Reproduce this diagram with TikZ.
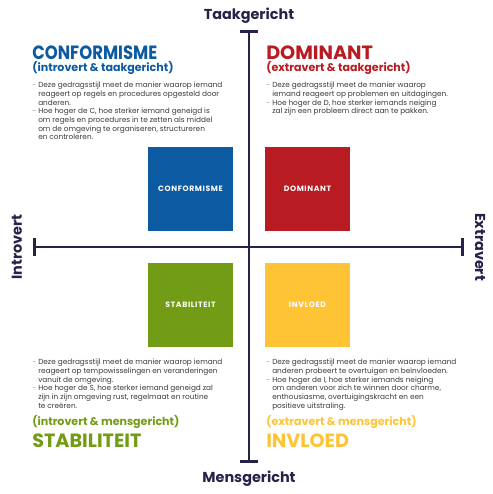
\documentclass[tikz,border=0pt]{standalone}
\usepackage{fontspec}
\setmainfont{Poppins}
\newfontfamily\boxfont{Poppins}[LetterSpace=8]
\usepackage{xcolor}
\usetikzlibrary{positioning, calc, arrows.meta}

\definecolor{navy}{HTML}{25234A}
\definecolor{conblue}{HTML}{0C5AA2}
\definecolor{domred}{HTML}{B81B21}
\definecolor{stagreen}{HTML}{729C15}
\definecolor{invyellow}{HTML}{FFC436}
\definecolor{bodygray}{HTML}{3A3A3A}
\definecolor{dashgray}{HTML}{9A9A9A}

\newcommand{\bdash}{\textcolor{dashgray}{-}\ }
\newcommand{\bind}{\hphantom{-\ }}

\tikzset{
  axis/.style={draw=navy, line width=2.2pt, {Bar[width=14pt]}-{Bar[width=14pt]}},
  axlabel/.style={text=navy, font=\fontsize{10.8}{12}\selectfont\bfseries, inner sep=0pt},
  sq/.style={minimum width=63.75pt, minimum height=63pt, inner sep=0pt,
    text=white, font=\boxfont\fontsize{5.8}{7}\selectfont\bfseries},
  title/.style={font=\fontsize{14.4}{16}\selectfont\bfseries, inner sep=0pt, anchor=base west},
  subtitle/.style={font=\fontsize{8.3}{10}\selectfont\bfseries, inner sep=0pt, anchor=base west},
  body/.style={text=bodygray, font=\fontsize{5.5}{6.5}\selectfont, align=left,
    inner sep=0pt, anchor=north west}
}

\begin{document}
\begin{tikzpicture}[x=0.75pt, y=-0.75pt]
  \useasboundingbox (0,0) rectangle (493,494);
  % Axes
  \coordinate (top) at (249,30);
  \coordinate (bot) at (249,463);
  \coordinate (lft) at (33,247);
  \coordinate (rgt) at (464,247);
  \draw[axis] (top) -- (bot);
  \draw[axis] (lft) -- (rgt);
  \node[axlabel] (taak) at (249,16) {Taakgericht};
  \node[axlabel] (mens) at (249,479) {Mensgericht};
  \node[axlabel, rotate=90] (intro) at (17,247) {Introvert};
  \node[axlabel, rotate=-90] (extra) at (480,247) {Extravert};
  % Squares
  \node[sq, fill=conblue] (csq) at (190.5,189) {CONFORMISME};
  \node[sq, fill=domred] (dsq) at (307.5,189) {DOMINANT};
  \node[sq, fill=stagreen] (ssq) at (190.5,305) {STABILITEIT};
  \node[sq, fill=invyellow] (isq) at (307.5,305) {INVLOED};
  % Conformisme
  \node[title, text=conblue] (ctitle) at (32,59) {\scalebox{0.86}[1]{CONFORMISME}};
  \node[subtitle, text=conblue] (csub) at (32,71.5) {(introvert \& taakgericht)};
  \node[body] (cbody) at (32,82) {\bdash Deze gedragsstijl meet de manier waarop iemand\\
    \bind reageert op regels en procedures opgesteld door\\
    \bind anderen.\\
    \bdash Hoe hoger de C, hoe sterker iemand geneigd is\\
    \bind om regels en procedures in te zetten als middel\\
    \bind om de omgeving te organiseren, structureren\\
    \bind en controleren.};
  % Dominant
  \node[title, text=domred] (dtitle) at (266,59) {DOMINANT};
  \node[subtitle, text=domred] (dsub) at (266,71.5) {(extravert \& taakgericht)};
  \node[body] (dbody) at (266,82) {\bdash Deze gedragsstijl meet de manier waarop\\
    \bind iemand reageert op problemen en uitdagingen.\\
    \bdash Hoe hoger de D, hoe sterker iemands neiging\\
    \bind zal zijn een probleem direct aan te pakken.};
  % Stabiliteit
  \node[body] (sbody) at (32,359) {\bdash Deze gedragsstijl meet de manier waarop iemand\\
    \bind reageert op tempowisselingen en veranderingen\\
    \bind vanuit de omgeving.\\
    \bdash Hoe hoger de S, hoe sterker iemand geneigd zal\\
    \bind zijn in zijn omgeving rust, regelmaat en routine\\
    \bind te creëren.};
  \node[subtitle, text=stagreen] (ssub) at (32,425.5) {(introvert \& mensgericht)};
  \node[title, text=stagreen] (stitle) at (32,447) {STABILITEIT};
  % Invloed
  \node[body] (ibody) at (266,359) {\bdash Deze gedragsstijl meet de manier waarop iemand\\
    \bind anderen probeert te overtuigen en beïnvloeden.\\
    \bdash Hoe hoger de I, hoe sterker iemands neiging\\
    \bind om anderen voor zich te winnen door charme,\\
    \bind enthousiasme, overtuigingskracht en een\\
    \bind positieve uitstraling.};
  \node[subtitle, text=invyellow] (isub) at (266,425.5) {(extravert \& mensgericht)};
  \node[title, text=invyellow] (ititle) at (266,447) {INVLOED};
\end{tikzpicture}
\end{document}
